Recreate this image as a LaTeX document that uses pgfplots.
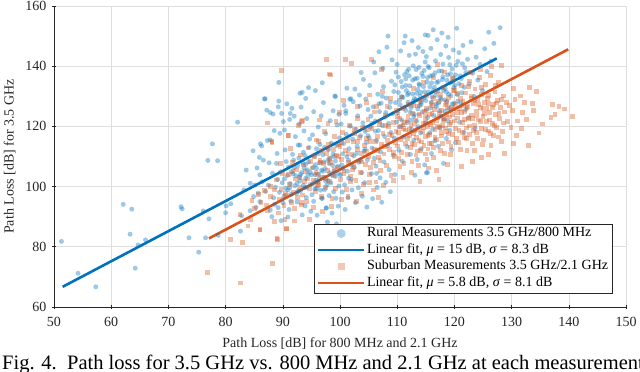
\documentclass[border=0pt]{standalone}
\usepackage{fontspec}
\setmainfont{Liberation Serif}
\usepackage{pgfplots}
\pgfplotsset{compat=1.18}
\definecolor{mblue}{rgb}{0,0.447,0.741}
\definecolor{morange}{rgb}{0.850,0.325,0.098}
\definecolor{axgray}{rgb}{0.15,0.15,0.15}
\definecolor{gridgray}{rgb}{0.87,0.87,0.87}
\begin{document}
\begin{tikzpicture}
\begin{axis}[
  scale only axis, width=572pt, height=301pt,
  xmin=50, xmax=150, ymin=60, ymax=160,
  xtick={50,60,...,150}, ytick={60,80,...,160},
  axis lines=left,
  axis line style={-, draw=axgray, line width=0.6pt},
  tick style={axgray, line width=0.6pt},
  major tick length=4pt,
  grid=major,
  major grid style={gridgray, line width=0.6pt},
  font=\fontsize{14}{16}\selectfont,
  /pgf/number format/assume math mode=true,
  ticklabel style={text=axgray},
  xticklabel style={yshift=-5pt},
  yticklabel style={xshift=-2pt},
  xlabel={Path Loss [dB] for 800 MHz and 2.1 GHz},
  ylabel={Path Loss [dB] for 3.5 GHz},
  xlabel style={at={(axis description cs:0.5,-0.1362)}, anchor=base, text=axgray},
  ylabel style={at={(axis description cs:-0.0708,0.5)}, anchor=base, text=axgray},
  legend style={at={(rel axis cs:0.977,0.0465)}, anchor=south east,
    draw=axgray, line width=0.5pt, fill=white, inner xsep=3pt, inner ysep=1.5pt,
    row sep=0pt, font=\fontsize{14}{16}\selectfont,
    nodes={inner sep=1.5pt, text height=10pt, text depth=3.5pt}},
  legend cell align=left,
]
\addplot[only marks, mark=*, mark size=2.5pt, color=mblue, draw opacity=0, fill opacity=0.38,
  mark options={draw opacity=0, fill opacity=0.38, fill=mblue},
  legend image code/.code={\path (0pt,0pt) (46pt,0pt); \fill[mblue, fill opacity=0.32] (23pt,0pt) circle (4.5pt);}]
coordinates {
(51.3,81.8) (54.2,71.2) (57.3,66.7) (62.1,94.1) (63.6,92.5) (63.3,84.2) (64.2,72.9) (64.7,80.6) (66.0,82.3) (72.2,93.3)
(72.4,92.6) (73.6,83.0) (75.3,78.2) (76.1,91.9) (77.1,89.3) (76.5,83.0) (76.9,108.7) (77.7,114.2) (78.6,108.6) (78.7,83.8)
(80.1,93.6) (80.0,91.3) (82.6,85.2) (82.8,90.3) (80.9,94.3) (82.1,121.4)
(83.6,105.5) (84.3,101.1) (84.8,111.9) (85.1,100.5) (85.7,97.8) (86.0,95.0) (85.3,93.1) (84.3,92.0) (86.1,114.2) (86.6,108.8)
(86.0,103.9) (87.5,100.5) (86.3,113.5) (87.3,115.3) (86.9,129.1) (87.2,125.4) (86.8,129.2) (87.8,124.6) (87.8,115.5) (87.8,92.2)
(88.1,90.0) (85.5,106.2) (87.0,98.4) (84.9,96.7) (83.2,98.9) (87.6,107.9) (86.4,101.6) (85.9,109.7)
(88.5,118.6) (88.9,107.7) (89.3,128.4) (89.3,134.6) (89.5,117.7) (89.8,124.3) (90.1,121.6) (90.3,118.8) (90.4,112.2) (91.6,126.0)
(90.7,127.5) (91.2,122.3) (88.4,96.3) (88.7,99.8) (89.1,102.4) (89.4,98.1) (89.6,104.9) (89.9,101.3) (90.2,96.8) (90.5,99.4)
(90.8,103.7) (91.0,106.5) (91.3,101.0) (91.5,97.5) (91.8,104.2) (91.9,108.8) (88.6,94.1) (89.2,93.0) (90.0,94.7) (91.4,95.2)
(91.7,110.7) (90.6,108.3) (89.0,111.0) (88.2,104.4) (91.1,92.4) (90.9,89.9) (89.7,88.7) (88.3,124.1) (89.2,126.5) (91.3,124.3)
(92.1,100.3) (92.3,103.6) (92.4,97.8) (92.6,106.9) (92.8,109.5) (93.0,101.9) (93.1,98.6) (93.3,104.7) (93.5,107.8) (93.6,111.4)
(93.8,99.6) (94.0,102.8) (94.1,96.4) (94.3,105.6) (94.5,108.2) (94.6,113.0) (94.8,100.7) (95.0,103.9) (95.1,97.3) (95.3,106.4)
(95.5,110.1) (95.6,99.2) (95.8,102.1) (95.9,99.4) (92.7,113.8) (93.0,113.8) (93.0,131.0) (94.5,132.9) (95.7,131.9) (93.4,131.3)
(92.9,120.8) (93.7,118.5) (94.2,122.6) (95.2,117.2) (92.5,94.9) (93.9,93.6) (94.9,91.8) (95.4,95.1) (93.4,90.6) (92.2,116.6)
(94.7,115.8) (95.9,112.6) (93.2,126.4) (94.0,129.3) (95.4,124.9) (92.0,123.4) (95.7,107.3) (94.4,104.0) (93.6,100.4) (92.9,103.2)
(96.1,101.5) (96.3,104.2) (96.4,107.9) (96.6,98.8) (96.8,96.1) (96.9,96.1) (97.0,110.6) (97.2,103.1) (97.4,106.0) (97.6,92.8)
(97.6,93.0) (97.7,100.4) (97.9,108.8) (98.0,112.3) (98.2,104.6) (98.4,101.2) (98.5,114.5) (98.7,107.1) (98.9,98.3) (99.1,130.1)
(99.0,110.0) (99.2,103.4) (99.3,96.1) (99.4,113.7) (99.6,106.7) (99.8,100.2) (99.9,116.2) (96.2,119.8) (96.7,123.5) (97.1,127.9)
(97.5,117.6) (98.3,121.9) (98.8,125.2) (99.5,120.5) (96.5,114.0) (97.3,113.1) (98.1,97.0) (99.7,93.5) (98.6,91.2) (96.0,90.5)
(97.8,88.2) (99.4,87.6) (96.9,134.5) (99.2,129.9) (99.8,124.0) (97.9,102.0) (96.8,105.5) (98.3,109.5) (99.0,105.2) (97.3,99.0)
(100.1,103.8) (100.3,107.2) (100.5,110.9) (100.6,114.3) (100.8,100.6) (101.0,124.3) (101.0,125.2) (101.1,117.4) (101.3,105.1) (101.5,108.7)
(101.7,129.0) (101.9,129.2) (101.6,112.6) (101.8,120.1) (102.0,102.4) (102.2,115.8) (102.4,110.2) (102.6,132.4) (102.5,106.3) (102.8,119.0)
(103.0,113.4) (103.1,123.5) (103.3,108.1) (103.5,126.8) (103.6,116.9) (103.8,104.6) (104.0,121.2) (104.1,135.6) (104.2,111.8) (104.4,118.3)
(104.6,114.7) (104.8,108.9) (104.9,125.6) (100.4,98.2) (101.4,96.3) (102.1,98.9) (103.2,99.6) (104.3,101.3) (100.9,92.4) (102.7,94.7)
(103.9,96.8) (104.7,93.2) (100.2,120.8) (101.2,132.7) (102.3,128.2) (103.4,130.4) (104.5,129.1) (100.7,127.0) (103.7,137.9) (101.5,102.8)
(105.1,116.2) (105.3,119.7) (105.4,123.4) (105.6,112.8) (105.8,126.5) (106.0,109.4) (106.1,137.8) (106.2,121.8) (106.4,115.3) (106.6,130.7)
(106.7,118.6) (106.9,124.9) (107.1,111.5) (107.2,127.7) (107.4,120.3) (107.6,133.2) (107.8,116.7) (107.9,123.1) (108.1,129.4) (108.3,113.6)
(108.4,150.0) (108.5,121.0) (108.7,126.3) (108.9,118.0) (109.0,135.0) (109.2,124.2) (109.4,131.6) (109.5,116.1) (109.7,127.9) (109.9,121.5)
(105.5,104.3) (106.3,106.8) (107.0,102.9) (107.7,108.2) (108.6,105.6) (109.3,110.4) (105.9,141.4) (106.8,144.8) (107.5,139.3) (108.2,146.3)
(109.1,142.1) (109.8,138.0) (105.2,133.6) (106.5,99.7) (108.0,101.4) (109.6,104.0) (105.7,96.0) (107.3,94.8) (108.8,98.3) (106.4,104.4)
(110.1,124.6) (110.2,131.3) (110.4,119.8) (110.5,127.2) (110.7,134.9) (110.8,122.1) (111.0,129.6) (111.1,116.4) (111.3,137.2) (111.4,150.0)
(111.5,125.3) (111.6,131.9) (111.8,121.3) (111.9,128.0) (112.1,143.6) (112.2,133.5) (112.4,126.2) (112.5,118.9) (112.7,130.8) (112.8,140.1)
(113.0,124.0) (113.1,103.8) (113.1,135.8) (113.3,128.9) (113.4,121.7) (113.6,132.3) (113.7,146.2) (113.9,126.9) (114.0,130.1) (114.1,117.8)
(114.3,137.6) (114.4,124.8) (114.6,133.2) (114.7,129.5) (114.9,150.4) (114.9,141.4) (110.3,112.1) (110.9,108.4) (111.7,113.3) (112.3,110.7)
(112.9,115.4) (113.5,109.0) (114.2,112.6) (114.8,107.2) (110.6,145.1) (111.2,147.8) (112.0,139.0) (112.6,148.5) (113.2,144.0) (113.8,139.6)
(114.5,144.9) (110.0,140.6) (111.5,135.8) (112.6,127.6) (113.4,131.0) (114.2,127.3) (113.8,134.1) (112.9,123.3) (111.8,130.5) (115.1,104.6)
(115.0,128.6) (115.2,134.7) (115.3,104.7) (115.3,122.9) (115.5,131.4) (115.6,139.5) (115.8,126.1) (115.9,145.9) (116.1,129.8) (116.2,136.9)
(116.4,123.6) (116.5,133.0) (116.7,141.8) (116.8,127.4) (117.0,148.8) (117.1,131.7) (117.3,138.4) (117.4,125.2) (117.6,143.9) (117.7,129.0)
(117.9,135.6) (118.1,107.7) (118.0,140.7) (118.2,122.4) (118.4,132.6) (118.5,146.7) (118.7,128.3) (118.8,137.1) (119.0,142.9) (119.1,125.9)
(119.3,134.4) (119.5,112.2) (119.4,130.2) (119.6,139.1) (119.8,145.4) (119.9,127.7) (115.7,117.9) (116.6,115.2) (117.5,119.6) (118.6,116.0)
(119.2,118.7) (116.0,111.0) (117.2,113.4) (115.4,150.2) (116.3,152.1) (117.8,151.0) (118.9,149.6) (115.1,143.2) (116.9,134.6) (118.3,128.8)
(119.7,134.9) (115.8,136.8)
(120.1,133.6) (120.3,140.3) (120.4,152.6) (120.6,128.4) (120.8,144.5) (121.0,136.8) (121.3,131.2) (121.5,146.9) (121.8,139.5) (122.0,125.6)
(122.3,142.3) (122.6,134.1) (122.9,148.1) (123.2,137.7) (123.5,129.9) (123.8,143.0) (124.1,135.4) (124.5,140.6) (124.9,131.9) (125.3,145.8)
(125.7,138.2) (126.0,151.3) (126.4,141.7) (126.9,147.6) (128.0,152.8) (120.9,121.4) (121.7,118.0) (122.5,122.9) (123.6,119.3) (120.2,114.6)
(110.4,128.7) (110.9,133.1) (111.3,126.4) (111.7,138.2) (112.0,131.0) (112.3,124.7) (112.7,135.4) (113.0,129.3) (113.3,138.9) (113.6,125.8)
(113.9,133.7) (114.2,128.1) (114.5,136.6) (114.8,131.5) (115.1,125.4) (115.4,139.9) (115.7,133.2) (116.0,128.0) (116.3,131.9) (116.6,137.8)
(116.9,126.6) (117.2,134.9) (117.5,129.6) (117.8,138.4) (118.1,132.0) (118.4,125.1) (118.7,135.3) (119.0,130.7) (119.3,137.5) (119.6,127.4)
(119.9,132.9) (120.2,137.1) (120.5,130.6) (120.8,134.2) (121.1,127.8) (121.4,140.8) (121.7,133.0) (122.0,137.9) (110.2,136.4) (110.8,129.9)
(111.5,133.6) (112.1,136.8) (112.8,128.4) (113.5,136.0) (114.1,131.3) (114.7,138.6) (115.3,136.2) (116.0,134.5) (116.7,130.3) (117.3,127.9)
(118.0,136.5) (118.6,131.4) (119.2,140.5) (119.8,136.1) (120.6,141.6) (121.2,135.9) (111.0,120.5) (112.4,122.0) (113.7,119.9) (115.0,121.2)
(116.2,119.1) (117.6,123.4) (118.9,121.8) (109.6,133.8) (108.8,128.0) (108.0,124.6) (107.4,130.0) (106.8,127.5) (106.2,118.4) (105.6,121.0)
(104.9,116.9) (104.2,119.6)
(90.3,102.6) (90.9,98.9) (91.5,104.9) (92.0,106.3) (92.5,101.1) (93.1,104.0) (93.7,106.2) (94.2,99.8) (94.8,104.8) (95.3,101.0)
(95.9,106.1) (96.4,102.7) (97.0,105.1) (97.5,101.8) (98.1,107.7) (98.6,103.9) (99.2,108.5) (99.7,104.4) (91.2,99.6) (92.7,98.5)
(94.0,107.4) (95.6,104.0) (97.2,108.2) (98.8,110.8) (96.2,110.9) (93.9,110.3) (100.5,105.9) (101.2,109.9) (102.0,107.1) (102.9,111.0)
(103.6,108.8) (104.4,112.4)
};
\addlegendentry{Rural Measurements 3.5 GHz/800 MHz}
\addplot[mblue, line width=2.6pt, legend image code/.code={\draw[mblue, line width=2.6pt] (0pt,0pt) -- (46pt,0pt);}]
coordinates {(51.5,66.7) (127.4,142.6)};
\addlegendentry{Linear fit, \textit{μ} = 15 dB, \textit{σ} = 8.3 dB}
\addplot[only marks, mark=square*, mark size=2.4pt, color=morange, draw opacity=0, fill opacity=0.38,
  mark options={draw opacity=0, fill opacity=0.38, fill=morange},
  legend image code/.code={\path (0pt,0pt) (46pt,0pt); \fill[morange, fill opacity=0.32] (19.5pt,-3.5pt) rectangle (26.5pt,3.5pt);}]
coordinates {
(76.9,71.5) (82.6,68.0) (80.9,82.3) (83.0,81.4) (86.0,85.6) (89.1,82.5) (88.2,74.5) (85.1,92.8) (86.2,94.8) (87.3,92.0)
(82.5,90.6) (84.3,89.1) (86.0,85.8) (89.0,82.8) (87.8,96.6) (87.2,93.9) (87.8,100.0) (88.1,114.7) (88.1,114.9) (87.3,121.1)
(89.8,138.5) (85.7,97.3) (84.6,95.5) (86.8,98.7) (83.9,86.9) (88.6,88.4)
(88.9,102.2) (89.4,95.7) (89.7,99.1) (90.0,104.3) (90.2,93.6) (90.5,97.8) (90.7,85.9) (90.7,86.0) (90.7,97.2) (90.9,116.9)
(91.0,103.9) (91.0,116.9) (91.2,100.6) (91.5,94.7) (91.7,108.1) (91.9,98.2) (92.1,92.8) (92.2,102.5) (92.4,105.5) (92.6,96.3)
(92.7,120.2) (92.9,99.8) (93.1,110.5) (93.3,93.9) (93.3,121.6) (93.5,97.2) (93.5,121.9) (93.6,107.2) (93.8,101.7) (94.0,104.9)
(94.2,95.0) (94.4,112.8) (94.6,89.2) (94.7,99.3) (94.9,108.4) (93.3,94.8) (92.1,88.6) (89.2,91.2) (90.4,89.0) (91.4,112.6)
(89.6,107.6) (88.5,98.9) (93.0,102.9) (91.8,105.1) (94.3,102.5)
(95.1,106.2) (95.3,102.2) (95.5,110.0) (95.7,98.3) (95.9,115.5) (96.0,104.1) (96.2,114.9) (96.3,100.8) (96.5,108.6) (96.7,96.6)
(96.8,112.0) (97.0,103.0) (97.1,107.7) (97.3,118.2) (97.4,99.7) (97.6,110.9) (97.7,142.3) (97.8,105.4) (98.0,114.1) (98.1,137.4)
(98.2,101.6) (98.3,137.1) (98.4,108.0) (98.6,96.0) (98.8,112.2) (98.9,103.7) (99.1,116.7) (99.3,121.6) (99.2,99.3) (99.4,110.3)
(99.6,106.5) (99.8,113.8) (100.0,113.3) (100.1,102.4) (100.3,109.1) (100.5,117.9) (100.6,128.5) (100.7,105.2) (100.9,142.3) (100.9,111.9)
(101.1,99.0) (101.3,115.4) (101.5,107.9) (101.7,120.4) (101.8,103.5) (102.0,141.0) (95.4,93.0) (96.9,91.7) (98.5,93.4) (100.2,95.7)
(101.4,96.6) (97.9,120.9) (96.4,122.1) (99.9,124.6)
(102.1,110.6) (102.3,114.8) (102.4,106.7) (102.6,119.1) (102.8,101.9) (103.0,112.3) (103.1,122.7) (103.1,126.5) (103.2,108.5) (103.4,116.4)
(103.6,104.8) (103.8,111.0) (104.0,119.8) (104.1,100.7) (104.3,113.6) (104.5,107.3) (104.7,116.0) (104.9,122.4) (105.0,110.1) (105.2,104.0)
(105.4,114.9) (105.5,142.1) (105.6,119.3) (105.8,107.9) (106.0,112.5) (106.1,124.8) (106.3,101.5) (106.4,126.5) (106.5,116.7) (106.7,109.6)
(106.9,120.5) (107.0,121.6) (107.1,105.4) (107.3,139.0) (107.3,113.9) (107.5,117.6) (107.7,110.8) (107.9,123.7) (108.1,107.0) (108.2,126.5)
(108.3,115.2) (108.5,119.9) (108.7,112.4) (108.9,103.6) (109.1,117.1) (109.3,121.2) (109.5,109.9) (109.7,114.6) (109.9,125.2) (103.7,97.6)
(105.9,98.9) (107.6,100.3) (109.4,102.1) (110.5,106.6) (104.6,127.9) (108.8,129.3) (102.9,95.0) (106.8,96.3) (105.1,130.4) (107.4,131.5)
(110.0,113.5) (110.2,118.1) (110.3,109.4) (110.5,122.6) (110.6,115.7) (110.8,111.2) (110.9,125.9) (111.1,119.4) (111.2,107.8) (111.4,118.8)
(111.5,114.3) (111.7,121.8) (111.8,110.6) (112.0,127.2) (112.1,116.9) (112.3,112.9) (112.4,120.3) (112.6,108.3) (112.7,124.4) (112.9,117.6)
(113.0,114.0) (113.2,122.1) (113.3,110.5) (113.5,126.8) (113.6,119.0) (113.8,115.3) (113.9,123.5) (114.1,111.9) (114.2,128.9) (114.4,118.2)
(114.5,121.0) (114.7,113.7) (114.8,125.0) (115.0,116.6) (115.1,130.3) (115.3,120.0) (115.4,112.5) (115.6,123.9) (115.7,117.3) (115.9,127.6)
(116.0,114.4) (116.2,121.3) (116.3,109.8) (116.5,125.7) (116.6,118.9) (116.8,131.6) (116.9,105.3) (116.9,115.6) (117.0,140.6) (117.1,122.8)
(117.2,128.4) (117.4,119.7) (117.5,112.1) (117.7,125.2) (117.8,116.8) (118.0,133.0) (118.1,121.9) (118.3,110.9) (118.4,127.1) (118.6,118.3)
(118.7,124.0) (118.9,114.8) (119.0,129.6) (119.2,120.7) (119.4,113.3) (119.5,126.3) (119.7,117.4) (119.8,131.9) (111.0,102.9) (112.5,104.6)
(114.0,101.8) (115.5,106.2) (117.3,102.4) (118.8,107.4) (110.7,129.8) (112.8,132.5) (114.6,134.6) (116.4,136.3) (118.2,138.1) (119.6,136.0)
(113.7,107.0) (115.2,109.1) (111.9,123.4) (113.1,118.7) (114.9,121.6) (116.1,124.3) (117.9,120.2) (119.1,123.1)
(120.0,121.8) (120.2,127.3) (120.3,115.9) (120.5,124.6) (120.6,130.8) (120.8,118.7) (120.9,126.0) (121.1,112.4) (121.2,133.7) (121.4,121.2)
(121.5,128.2) (121.7,116.4) (121.8,124.9) (122.0,131.1) (122.1,119.5) (122.2,111.9) (122.3,126.7) (122.4,122.5) (122.6,135.1) (122.7,117.2)
(122.9,129.4) (123.0,123.8) (123.2,114.3) (123.3,127.6) (123.5,120.4) (123.6,132.4) (123.8,125.1) (123.9,117.9) (124.1,129.0) (124.2,122.1)
(124.4,136.2) (124.5,126.4) (124.7,119.2) (124.8,109.6) (124.8,130.6) (125.0,123.3) (125.1,115.5) (125.3,128.0) (125.4,133.9) (125.6,121.7)
(125.7,126.0) (125.9,110.7) (125.9,118.5) (126.0,130.2) (126.2,124.5) (126.3,137.0) (126.5,139.8) (126.6,121.0) (126.8,127.3) (126.9,116.9)
(127.1,131.4) (127.2,124.0) (127.4,119.7) (127.6,128.7) (127.7,134.6) (127.9,122.6) (128.1,126.2) (128.3,140.2) (128.4,118.3) (128.6,130.1)
(128.8,111.1) (128.8,124.8) (129.1,128.0) (129.3,121.5) (129.6,126.9) (129.9,119.6) (121.3,106.8) (123.1,108.4) (126.4,113.7) (128.2,115.1)
(122.8,137.9) (124.6,139.0)
(130.3,132.7) (133.1,132.9) (134.4,131.5) (133.6,127.6) (133.8,125.4) (137.1,127.3) (138.3,126.5) (139.2,125.8) (137.6,124.0) (136.9,123.0)
(140.7,123.2) (135.4,120.8) (134.8,117.8) (132.9,113.6) (130.2,125.3) (130.6,128.9) (131.0,121.8) (131.5,130.1) (131.9,124.6) (132.3,127.9)
(130.8,117.0) (131.7,119.4) (132.6,122.3) (130.4,114.2)
(112.2,118.9) (112.6,114.4) (113.0,120.8) (113.4,116.2) (113.8,124.1) (114.2,114.8) (114.6,119.5) (115.0,123.4) (115.4,117.1) (115.8,120.6)
(116.2,127.0) (116.6,116.3) (117.0,120.0) (117.4,124.2) (117.8,118.0) (118.2,122.7) (118.6,128.0) (119.0,117.5) (119.4,121.4) (119.8,125.8)
(120.2,119.4) (120.6,122.8) (121.0,129.4) (121.4,118.0) (121.8,122.2) (122.2,126.3) (122.6,120.1) (123.0,130.1) (123.4,118.7) (123.8,123.6)
(124.2,127.4) (124.6,121.6) (125.0,125.9) (125.4,118.9) (125.8,129.2) (126.2,122.1) (126.6,126.3) (127.0,120.4) (127.4,127.8) (127.8,124.3)
(128.2,129.0) (128.6,121.1) (112.9,126.9) (114.0,128.4) (115.1,126.0) (116.4,129.4) (117.6,130.6) (118.8,126.2) (120.0,131.8) (121.2,124.7)
(122.4,133.2) (123.6,128.7) (124.8,132.8) (126.0,127.6) (127.2,133.5) (113.5,111.8) (114.9,110.8) (116.4,112.9) (117.9,114.3) (119.3,110.6)
(120.7,114.7) (122.1,116.0) (123.5,111.9) (124.9,114.1) (126.3,117.6) (127.7,116.5) (111.3,121.2) (111.8,116.0) (110.6,119.9) (110.1,123.3)
(119.7,124.0) (121.6,126.9) (123.2,122.5) (125.2,124.2) (118.4,119.5) (116.9,121.8) (115.6,114.2) (124.0,116.1)
(95.8,104.6) (96.6,107.9) (97.4,102.5) (98.2,109.4) (99.0,105.7) (99.8,109.9) (100.6,104.2) (101.4,110.9) (102.2,105.5) (103.0,114.9)
(103.8,108.2) (104.6,111.7) (105.4,106.3) (106.2,115.0) (107.0,108.8) (107.8,113.4) (108.6,117.3) (109.4,111.2) (100.2,114.6) (102.6,117.7)
(104.8,118.9) (106.6,112.0) (108.0,120.4) (109.8,118.3) (97.9,112.7) (96.1,100.3) (101.9,101.7) (105.1,101.3)
};
\addlegendentry{Suburban Measurements 3.5 GHz/2.1 GHz}
\addplot[morange, line width=2.6pt, legend image code/.code={\draw[morange, line width=2.6pt] (0pt,0pt) -- (46pt,0pt);}]
coordinates {(77.1,82.8) (139.9,145.6)};
\addlegendentry{Linear fit, \textit{μ} = 5.8 dB, \textit{σ} = 8.1 dB}
\end{axis}
\node[anchor=base west, font=\fontsize{20.5}{22}\selectfont, inner sep=0pt] at (-52pt,-62.5pt)
  {Fig. 4.\enspace Path loss for 3.5 GHz vs. 800 MHz and 2.1 GHz at each measurement};
\pgfresetboundingbox
\useasboundingbox (-54pt,-65pt) rectangle (586pt,307pt);
\end{tikzpicture}
\end{document}
